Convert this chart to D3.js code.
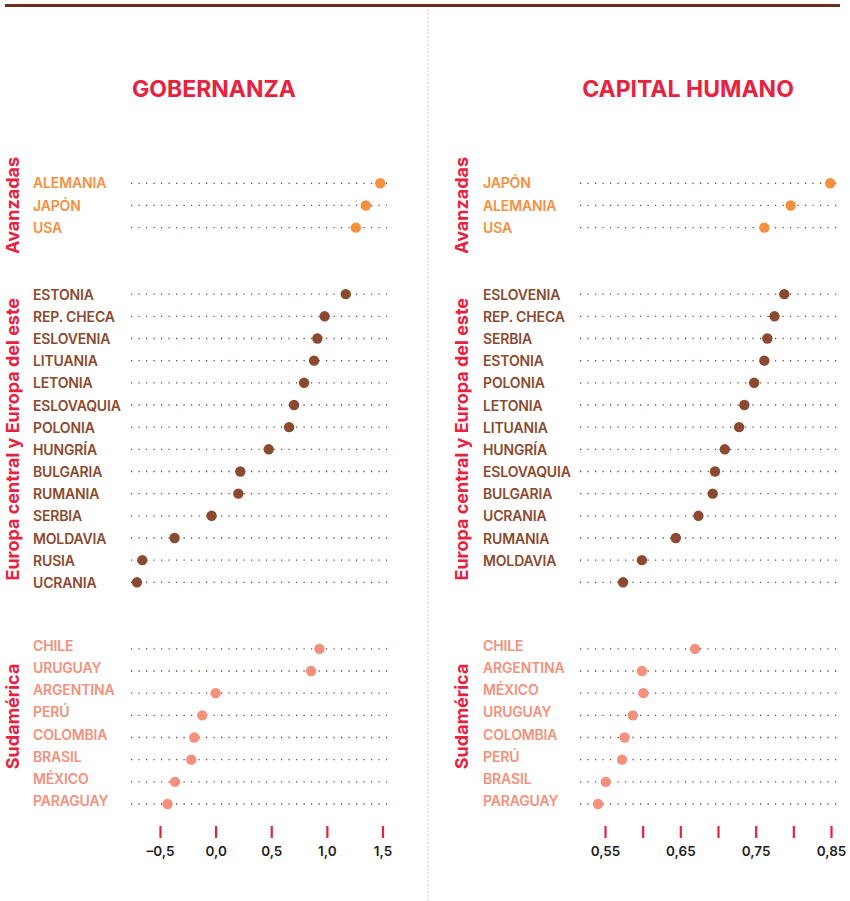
<!DOCTYPE html>
<html lang="es">
<head>
<meta charset="utf-8">
<script src="https://cdn.jsdelivr.net/npm/d3@7"></script>
<style>
  html, body { margin: 0; padding: 0; background: #fff; }
  svg { display: block; font-family: Inter, "Noto Sans", sans-serif; }
</style>
</head>
<body>
<svg id="chart" width="850" height="901"></svg>
<script>
// Groups of countries, in drawing order
const groups = ["Avanzadas", "Europa central y Europa del este", "Sudamérica"];
const groupColors = ["#f68f3e", "#8a4a2f", "#f4907b"];

// Gobernanza (index), one list per group
const govCountries = [
  ["ALEMANIA", "JAPÓN", "USA"],
  ["ESTONIA", "REP. CHECA", "ESLOVENIA", "LITUANIA", "LETONIA", "ESLOVAQUIA", "POLONIA",
   "HUNGRÍA", "BULGARIA", "RUMANIA", "SERBIA", "MOLDAVIA", "RUSIA", "UCRANIA"],
  ["CHILE", "URUGUAY", "ARGENTINA", "PERÚ", "COLOMBIA", "BRASIL", "MÉXICO", "PARAGUAY"]
];
const govValues = [
  [1.48, 1.35, 1.26],
  [1.17, 0.98, 0.915, 0.885, 0.795, 0.705, 0.66, 0.477, 0.222, 0.204, -0.036, -0.369, -0.659, -0.707],
  [0.933, 0.858, 0.0, -0.12, -0.192, -0.219, -0.365, -0.432]
];

// Capital humano (index), one list per group
const humCountries = [
  ["JAPÓN", "ALEMANIA", "USA"],
  ["ESLOVENIA", "REP. CHECA", "SERBIA", "ESTONIA", "POLONIA", "LETONIA", "LITUANIA",
   "HUNGRÍA", "ESLOVAQUIA", "BULGARIA", "UCRANIA", "RUMANIA", "MOLDAVIA", ""],
  ["CHILE", "ARGENTINA", "MÉXICO", "URUGUAY", "COLOMBIA", "PERÚ", "BRASIL", "PARAGUAY"]
];
const humValues = [
  [0.849, 0.7965, 0.7615],
  [0.788, 0.775, 0.7655, 0.7615, 0.748, 0.735, 0.728, 0.709, 0.696, 0.693, 0.674, 0.644, 0.599, 0.574],
  [0.6695, 0.599, 0.601, 0.587, 0.576, 0.5726, 0.551, 0.5407]
];

// Axis ticks
const govTicks = [-0.5, 0.0, 0.5, 1.0, 1.5];
const govTickLabels = ["–0,5", "0,0", "0,5", "1,0", "1,5"];
const humTicks = [0.55, 0.60, 0.65, 0.70, 0.75, 0.80, 0.85];
const humTickLabels = ["0,55", "", "0,65", "", "0,75", "", "0,85"];

const titles = ["GOBERNANZA", "CAPITAL HUMANO"];

const RED = "#e8213f";
const svg = d3.select("#chart");

// top rule
svg.append("line")
  .attr("x1", 5).attr("x2", 840).attr("y1", 5.5).attr("y2", 5.5)
  .attr("stroke", "#6e2e1f").attr("stroke-width", 3.2);

// dotted separator between the two panels
svg.append("line")
  .attr("x1", 428).attr("x2", 428).attr("y1", 10).attr("y2", 901)
  .attr("stroke", "#f3a3b3").attr("stroke-width", 1.2)
  .attr("stroke-dasharray", "1.2,2.6");

// vertical slots: groups separated by two empty slots
const gapSlots = 2;
function slotsFor(countryLists) {
  const out = [];
  let s = 0;
  countryLists.forEach((list, gi) => {
    list.forEach((c, i) => { out.push({ group: gi, idx: i, slot: s }); s++; });
    s += gapSlots;
  });
  return out;
}
const y = d3.scaleLinear().domain([0, 28]).range([183.3, 804]);

const panels = [
  {
    title: titles[0], titleX: 214, countries: govCountries, values: govValues,
    x: d3.scaleLinear().domain([-0.5, 1.5]).range([160, 382.5]),
    ticks: govTicks, tickLabels: govTickLabels,
    labelX: 33, groupX: 12.5, lineX: [131, 387]
  },
  {
    title: titles[1], titleX: 688, countries: humCountries, values: humValues,
    x: d3.scaleLinear().domain([0.55, 0.85]).range([605, 831]),
    ticks: humTicks, tickLabels: humTickLabels,
    labelX: 483, groupX: 461.5, lineX: [580, 837]
  }
];

const labelShift = [0, 0.5, -3];   // vertical nudge of country names per group
const groupShift = [0, 1, -10];    // vertical nudge of the rotated group names

panels.forEach(p => {
  const g = svg.append("g");

  g.append("text")
    .attr("x", p.titleX).attr("y", 97)
    .attr("text-anchor", "middle")
    .attr("fill", RED)
    .attr("font-size", 23).attr("font-weight", 700)
    .text(p.title);

  const rows = slotsFor(p.countries).map(r => ({
    ...r,
    name: p.countries[r.group][r.idx],
    value: p.values[r.group][r.idx]
  }));

  // dotted guide per row
  g.selectAll(".guide").data(rows).join("line")
    .attr("class", "guide")
    .attr("x1", p.lineX[0]).attr("x2", p.lineX[1])
    .attr("y1", d => y(d.slot)).attr("y2", d => y(d.slot))
    .attr("stroke", "#6f4233").attr("stroke-width", 1.3)
    .attr("stroke-dasharray", "1.2,6.3");

  // country names
  g.selectAll(".name").data(rows).join("text")
    .attr("class", "name")
    .attr("x", p.labelX)
    .attr("y", d => y(d.slot) + labelShift[d.group])
    .attr("dy", "0.36em")
    .attr("fill", d => groupColors[d.group])
    .attr("font-size", 14).attr("font-weight", 600)
    .attr("letter-spacing", -0.15)
    .text(d => d.name);

  // dots
  g.selectAll(".dot").data(rows).join("circle")
    .attr("class", "dot")
    .attr("cx", d => p.x(d.value))
    .attr("cy", d => y(d.slot))
    .attr("r", 5.2)
    .attr("fill", d => groupColors[d.group]);

  // rotated group names
  groups.forEach((name, gi) => {
    const gr = rows.filter(r => r.group === gi);
    const cy = (y(gr[0].slot) + y(gr[gr.length - 1].slot)) / 2 + groupShift[gi];
    g.append("text")
      .attr("transform", `translate(${p.groupX},${cy}) rotate(-90)`)
      .attr("text-anchor", "middle")
      .attr("dy", "0.35em")
      .attr("fill", RED)
      .attr("font-size", 18).attr("font-weight", 700)
      .text(name);
  });

  // axis: short red ticks with labels below
  const axis = d3.axisBottom(p.x)
    .tickValues(p.ticks)
    .tickSize(12)
    .tickSizeOuter(0)
    .tickFormat((d, i) => p.tickLabels[i]);
  const ax = g.append("g").attr("transform", "translate(0,826)").call(axis);
  ax.select(".domain").remove();
  ax.selectAll(".tick line").attr("stroke", RED).attr("stroke-width", 2.2);
  ax.selectAll(".tick text")
    .attr("y", 20)
    .attr("fill", "#1e1e1e")
    .attr("font-family", "Inter, sans-serif")
    .attr("font-size", 13.5).attr("font-weight", 600);
});
</script>
</body>
</html>
